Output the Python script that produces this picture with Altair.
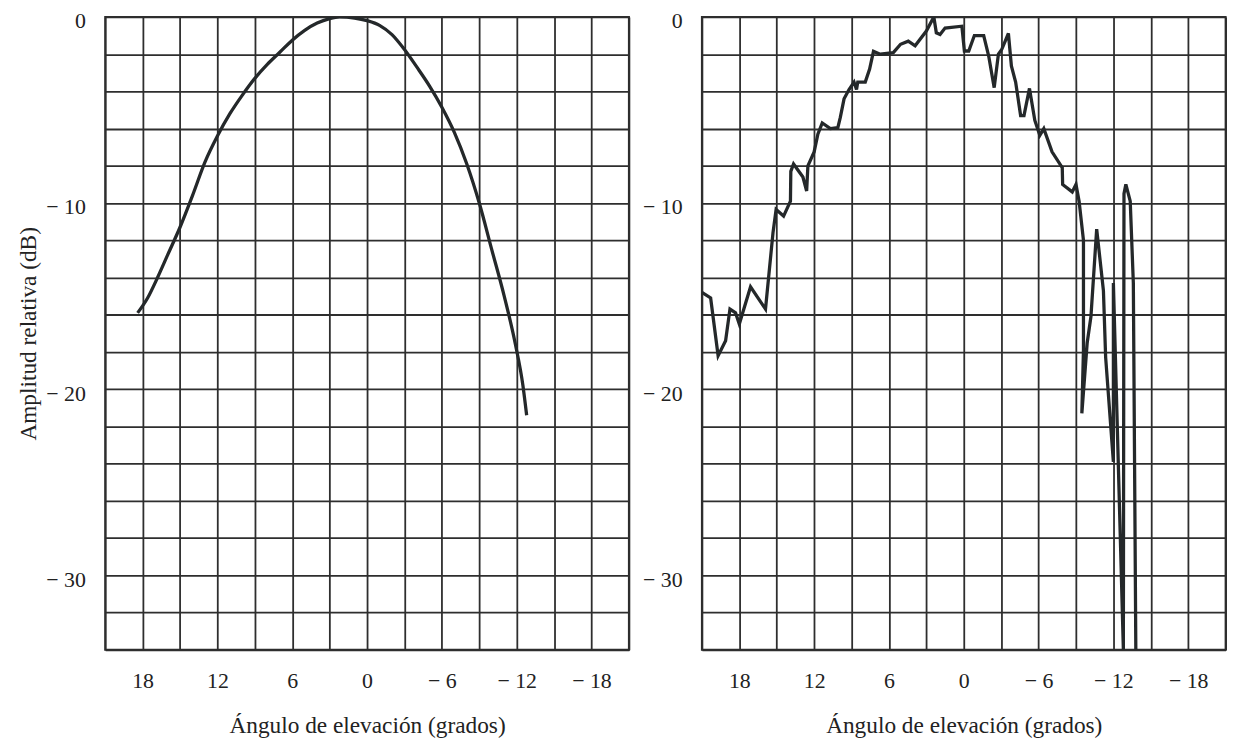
import altair as alt
import pandas as pd

# Left panel: smooth pattern
left_deg = [18.4, 17.6, 16.8, 16.0, 15.0, 14.0, 13.0, 12.0, 11.0, 10.0, 9.0, 8.0, 7.0, 6.0, 5.0, 4.0, 3.0, 2.2,
            1.0, 0.0, -1.0, -2.0, -3.0, -4.0, -5.0, -6.0, -7.0, -8.0, -9.0, -10.0, -11.0, -11.9, -12.5, -12.8]
left_db = [-15.9, -15.1, -14.0, -12.8, -11.3, -9.6, -7.8, -6.4, -5.2, -4.2, -3.3, -2.55, -1.9, -1.25, -0.72, -0.33, -0.09, 0.0,
           -0.06, -0.2, -0.45, -0.95, -1.75, -2.7, -3.7, -4.85, -6.2, -7.9, -10.0, -12.5, -15.0, -17.6, -19.8, -21.4]

# Right panel: measured pattern
right_deg = [21.0, 20.3, 19.7, 19.1, 18.75, 18.3, 18.0, 17.1, 15.9, 15.3, 15.05, 14.45, 13.9, 13.87, 13.65,
             12.9, 12.6, 12.5, 12.0, 11.7, 11.35, 10.7, 10.1, 9.9, 9.6, 9.2, 8.8, 8.6, 8.5, 7.9, 7.55, 7.24,
             6.7, 5.65, 5.07, 4.45, 3.9, 3.0, 2.4, 2.2, 1.9, 1.5, 0.15, -0.05, -0.4, -0.85, -1.6, -2.0, -2.44,
             -2.78, -3.05, -3.58, -3.82, -4.16, -4.56, -4.83, -5.27, -5.7, -6.1, -6.42, -7.08, -7.9, -7.93,
             -8.7, -9.0, -9.25, -9.6, -9.6, -9.47, -9.9, -10.2, -10.66, -11.2, -11.38, -12.0, -12.0, -12.8,
             -12.85, -13.0, -13.35, -13.6, -13.8]
right_db = [-14.8, -15.1, -18.2, -17.4, -15.7, -15.9, -16.5, -14.5, -15.7, -11.6, -10.35, -10.7, -9.9, -8.3, -7.9,
            -8.6, -9.35, -8.0, -7.25, -6.3, -5.7, -6.0, -5.95, -5.4, -4.4, -3.9, -3.5, -3.9, -3.5, -3.5, -2.8, -1.85,
            -2.0, -1.92, -1.47, -1.3, -1.55, -0.76, 0.0, -0.85, -0.94, -0.6, -0.5, -1.83, -1.83, -1.0, -1.0, -2.1, -3.8,
            -2.0, -1.74, -0.89, -2.63, -3.5, -5.3, -5.3, -3.84, -5.56, -6.36, -6.0, -7.25, -8.1, -9.0,
            -9.4, -9.0, -9.9, -12.0, -17.9, -21.3, -17.5, -16.1, -11.4, -14.7, -18.3, -23.9, -14.3, -34.0,
            -9.5, -9.0, -9.9, -14.3, -34.0]

x_grid = list(range(-21, 22, 3))
y_grid = list(range(-34, 1, 2))

x_title = "Ángulo de elevación (grados)"
y_title = "Amplitud relativa (dB)"

FONT = "Liberation Serif"
INK = "#24282a"
GRID = "#2e2e2e"
TEXT = "#222222"

x_label_expr = "datum.value % 6 == 0 ? (datum.value < 0 ? '\u2212 ' + abs(datum.value) : '' + datum.value) : ''"
y_label_expr = "datum.value % 10 == 0 ? (datum.value < 0 ? '\u2212 ' + abs(datum.value) : '' + datum.value) : ''"


def panel(deg, db, with_title, interp):
    df = pd.DataFrame({"deg": deg, "db": db, "i": list(range(len(deg)))})
    if with_title:
        yaxis = alt.Axis(values=y_grid, labelExpr=y_label_expr, title=y_title, labelPadding=20,
                         labelOffset=4, labelFontSize=22, titleFontSize=23.5,
                         titleX=-70, titleY=319, titleAngle=-90,
                         titleBaseline="alphabetic", titleAlign="center")
    else:
        yaxis = alt.Axis(values=y_grid, labelExpr=y_label_expr, title=None, labelPadding=20,
                         labelOffset=4, labelFontSize=22)
    return alt.Chart(df).mark_line(color=INK, strokeWidth=3.3, clip=True, interpolate=interp).encode(
        x=alt.X("deg:Q", scale=alt.Scale(domain=[21, -21], nice=False, zero=False),
                axis=alt.Axis(values=x_grid, labelExpr=x_label_expr, title=x_title,
                              labelFontSize=22, titleFontSize=23.5,
                              labelPadding=21, titlePadding=22, labelAngle=0)),
        y=alt.Y("db:Q", scale=alt.Scale(domain=[-34, 0], nice=False, zero=False), axis=yaxis),
        order="i:Q",
    ).properties(width=528, height=638)


left = panel(left_deg, left_db, True, "monotone")
right = panel(right_deg, right_db, False, "linear")

chart = alt.hconcat(left, right, spacing=73.6, bounds="flush").properties(
    padding={"left": 8, "top": -2, "right": 0, "bottom": 0}
).configure_view(stroke=GRID, strokeWidth=2).configure_axis(
    labelFont=FONT, titleFont=FONT,
    labelColor=TEXT, titleColor=TEXT, titleFontWeight="normal",
    gridColor=GRID, gridWidth=1.8, gridOpacity=1, domain=False, ticks=False,
    labelOverlap=False, labelFlush=False,
)

chart.save("out.html", embed_options={"renderer": "svg", "actions": False})
